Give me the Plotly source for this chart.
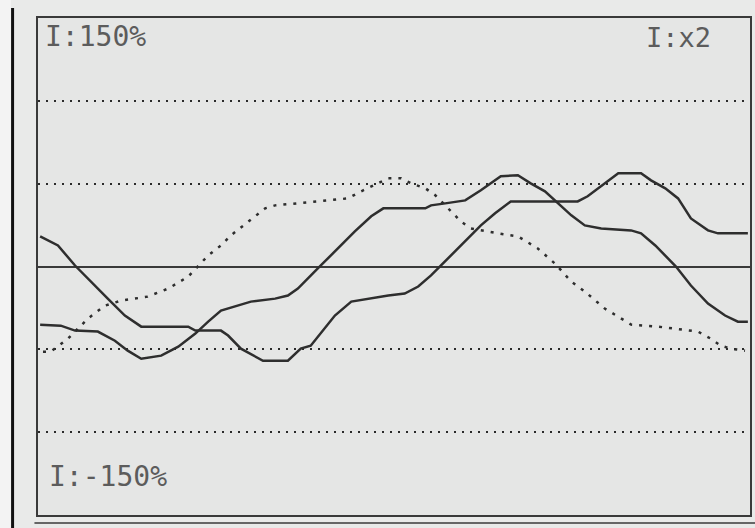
import plotly.graph_objects as go

# Trace A (solid, starts high on the left)
a_t = [0.3, 2.8, 5.2, 7.4, 9.8, 12.2, 14.5, 21.1, 22.1, 25.7, 26.7, 28.5, 31.6, 35.1, 36.9, 38.3,
       41.7, 44.0, 46.3, 49.2, 51.5, 53.4, 55.2, 56.6, 58.6, 60.4, 62.2, 64.2, 66.4, 72.6, 75.8,
       77.2, 80.1, 81.5, 84.7, 86.1, 88.1, 89.9, 91.7, 94.1, 95.5, 99.7]
a_v = [18.2, 12.7, 0.6, -9.1, -19.4, -29.6, -36.3, -36.3, -38.7, -38.7, -41.7, -49.6, -56.9, -56.9,
       -49.6, -47.8, -29.6, -21.2, -19.4, -17.5, -16.3, -12.1, -5.4, 0.6, 9.1, 16.9, 24.8, 32.1,
       39.3, 39.3, 39.3, 42.4, 52.0, 56.3, 56.3, 52.0, 47.2, 41.1, 29.0, 21.8, 20.0, 20.0]

# Trace B (solid, starts low on the left)
b_t = [0.3, 3.2, 5.2, 8.4, 10.8, 12.6, 14.5, 17.3, 19.7, 22.1, 23.9, 25.7, 29.9, 33.3, 35.1, 36.5,
       39.3, 41.7, 44.5, 46.8, 48.5, 54.4, 55.2, 57.2, 60.0, 62.2, 65.0, 67.4, 69.2, 71.2, 73.0,
       74.9, 76.8, 79.1, 83.3, 84.7, 86.7, 88.5, 89.6, 91.7, 94.1, 96.5, 98.3, 99.7]
b_v = [-35.1, -35.7, -38.7, -39.3, -44.8, -50.8, -55.7, -53.8, -48.4, -40.5, -33.3, -26.6, -21.2,
       -19.4, -17.5, -13.3, -1.2, 9.1, 21.2, 30.3, 35.1, 35.1, 36.9, 38.1, 39.9, 46.0, 54.5, 55.1,
       50.2, 45.4, 38.1, 30.9, 24.8, 23.0, 21.8, 20.0, 12.7, 4.8, 0.0, -11.5, -22.4, -29.6, -33.3,
       -33.3]

# Trace C (dotted)
c_t = [0.7, 1.8, 4.2, 7.0, 9.4, 11.7, 15.4, 18.3, 21.1, 23.9, 25.7, 27.1, 31.9, 33.3, 39.3, 43.5,
       45.4, 47.8, 49.2, 51.0, 52.4, 54.4, 55.8, 57.6, 59.4, 60.8, 62.2, 64.6, 67.4, 70.2, 72.6,
       74.9, 76.8, 79.6, 81.5, 83.3, 87.1, 92.7, 94.5, 95.9, 97.3, 99.3]
c_v = [-51.4, -51.4, -43.6, -31.5, -23.6, -20.6, -18.2, -13.3, -6.1, 6.7, 12.7, 18.8, 35.1, 36.9,
       39.3, 41.1, 45.4, 50.2, 53.2, 53.2, 50.2, 47.2, 43.0, 35.1, 27.2, 23.0, 21.8, 20.0, 18.2,
       10.9, 1.8, -9.1, -15.1, -25.4, -30.3, -35.1, -36.3, -39.3, -43.6, -47.8, -49.6, -50.8]

grid_vals = [-100, -50, 50, 100]
labels = {"top": "I:150%", "bottom": "I:-150%", "scale": "I:x2"}

ink = "#2e2e2e"
fig = go.Figure()
fig.add_trace(go.Scatter(x=c_t, y=c_v, mode="lines",
                         line=dict(color=ink, width=2.5, dash="3px,7px")))
fig.add_trace(go.Scatter(x=a_t, y=a_v, mode="lines", line=dict(color=ink, width=2.5)))
fig.add_trace(go.Scatter(x=b_t, y=b_v, mode="lines", line=dict(color=ink, width=2.5)))

mono = "DejaVu Sans Mono"
txt = "#5c5c5c"
fig.update_layout(
    width=755, height=528,
    margin=dict(l=38, r=3, t=18, b=13),
    paper_bgcolor="#e9eae9",
    plot_bgcolor="#e5e6e5",
    showlegend=False,
    xaxis=dict(range=[0, 100], showgrid=False, zeroline=False, showticklabels=False,
               ticks="", showline=True, mirror=True, linecolor="#3a3a3a", linewidth=2),
    yaxis=dict(range=[-150, 150], tickvals=grid_vals, showticklabels=False, ticks="",
               showgrid=True, gridcolor="#2a2a2a", gridwidth=2, griddash="2px,6px",
               zeroline=True, zerolinecolor="#3a3a3a", zerolinewidth=2,
               showline=True, mirror=True, linecolor="#3a3a3a", linewidth=2),
    annotations=[
        dict(text=labels["top"], xref="paper", yref="paper", x=0.007, y=0.999,
             xanchor="left", yanchor="top", showarrow=False,
             font=dict(family=mono, size=28, color=txt)),
        dict(text=labels["scale"], xref="paper", yref="paper", x=0.948, y=0.995,
             xanchor="right", yanchor="top", showarrow=False,
             font=dict(family=mono, size=27, color=txt)),
        dict(text=labels["bottom"], xref="paper", yref="paper", x=0.0126, y=0.078,
             xanchor="left", yanchor="middle", showarrow=False,
             font=dict(family=mono, size=28, color=txt)),
    ],
    shapes=[
        dict(type="rect", xref="paper", yref="paper", x0=-0.06, x1=-0.0378, y0=-0.05, y1=1.05,
             fillcolor="#f3f3f3", line=dict(width=0), layer="below"),
        dict(type="rect", xref="paper", yref="paper", x0=-0.0378, x1=-0.0336, y0=-0.05, y1=1.02,
             fillcolor="#111111", line=dict(width=0), layer="above"),
        dict(type="line", xref="paper", yref="paper", x0=-0.005, x1=1.01, y0=-0.016, y1=-0.016,
             line=dict(color="#666666", width=2)),
    ],
)

fig.write_html("out.html", config={"displayModeBar": False},
               post_script="document.body.style.margin='0';document.body.style.overflow='hidden';")
